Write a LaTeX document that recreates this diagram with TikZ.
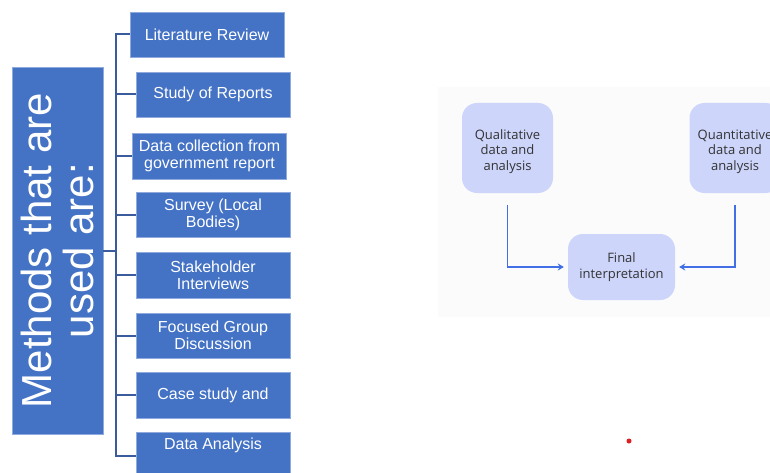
\documentclass[tikz,border=0pt]{standalone}
\usepackage{fontspec}
\setmainfont{Liberation Sans}
\newfontfamily\flowfont{Open Sans}
\usetikzlibrary{arrows.meta}

\definecolor{officeblue}{HTML}{4472C4}
\definecolor{boxedge}{HTML}{8FAADC}
\definecolor{bracketblue}{HTML}{3A5C9C}
\definecolor{panelgray}{HTML}{FBFBFB}
\definecolor{lavender}{HTML}{CDD5FB}
\definecolor{flowblue}{HTML}{426EE6}
\definecolor{flowtext}{HTML}{333333}
\definecolor{dotred}{HTML}{E02020}

\tikzset{
  methodbox/.style={fill=officeblue, draw=boxedge, line width=0.6pt,
    minimum width=154pt, minimum height=45pt, inner sep=2pt,
    text=white, align=center, font=\fontsize{16}{17}\selectfont},
  titlebox/.style={fill=officeblue, draw=boxedge, line width=0.6pt,
    rotate=90, minimum width=367pt, minimum height=91pt, inner sep=0pt,
    text=white, align=center, font=\fontsize{42}{42}\selectfont},
  bracket/.style={draw=bracketblue, line width=2pt},
  roundbox/.style={fill=lavender, rounded corners=15pt, text=flowtext,
    align=center, font=\flowfont\fontsize{13}{15.5}\selectfont, inner sep=0pt},
  flow/.style={draw=flowblue, line width=1.8pt,
    -{Stealth[length=6pt,width=7pt]}, shorten >=4pt},
}

\begin{document}
\begin{tikzpicture}[x=1pt, y=-1pt]
  \useasboundingbox (0,0) rectangle (770,473);
  \clip (0,0) rectangle (770,473);

  % title column
  \node[titlebox] (title) at (57.5,250.5) {Methods that are\\used are:};

  % list of methods
  \node[methodbox] (m1) at (207,34.5) {Literature Review};
  \node[methodbox] (m2) at (213,94.5) {Study of Reports};
  \node[methodbox, minimum height=46pt] (m3) at (209.5,156) {Data collection from\\government report};
  \node[methodbox] (m4) at (213,214.5) {Survey (Local\\Bodies)};
  \node[methodbox, minimum height=46pt] (m5) at (213,275) {Stakeholder\\Interviews};
  \node[methodbox] (m6) at (213,335.5) {Focused Group\\Discussion};
  \node[methodbox, minimum height=46pt] (m7) at (213,395) {Case study and};
  \node[methodbox, minimum height=48pt] (m8) at (213,456) {Data Analysis\\[8pt]\mbox{}};

  % bracket joining the title to the methods
  \coordinate (spine) at (116,0);
  \draw[bracket] (m1.west) -- (spine |- m1.west) -- (spine |- m8.west) -- (m8.west);
  \foreach \m in {m2,m3,m4,m5,m6,m7}
    \draw[bracket] (\m.west) -- (spine |- \m.west);
  \draw[bracket] (title.south) -- (spine |- title.south);

  % mixed-methods panel
  \fill[panelgray] (438,87) rectangle (770,317);
  \node[roundbox, minimum width=91pt, minimum height=90pt] (qual) at (507.5,148) {\rule{0pt}{17pt}Qualitative\\data and\\analysis};
  \node[roundbox, minimum width=91pt, minimum height=90pt] (quant) at (735,148) {\rule{0pt}{17pt}Quantitative\\data and\\analysis};
  \node[roundbox, minimum width=107pt, minimum height=66pt] (final) at (621.5,267) {Final\\interpretation};
  \draw[flow] ([yshift=-12pt]qual.south) |- (final.west);
  \draw[flow] ([yshift=-12pt]quant.south) |- (final.east);

  % small red marker
  \fill[dotred] (629,441) circle (2.5);
\end{tikzpicture}
\end{document}
